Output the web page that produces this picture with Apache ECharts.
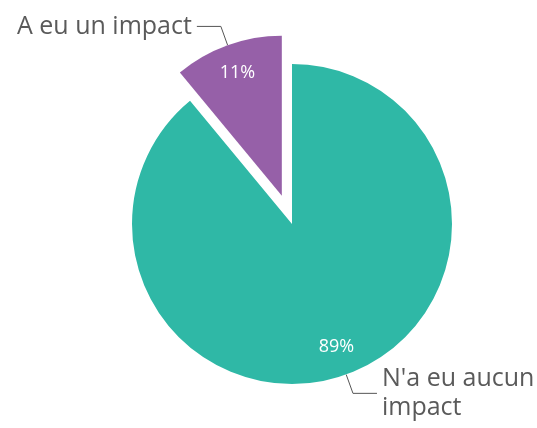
<!DOCTYPE html>
<html>
<head>
    <meta charset="utf-8">
    <title>impact</title>
    <script src="https://cdn.jsdelivr.net/npm/echarts@6/dist/echarts.min.js"></script>
    <style>
        html, body { margin: 0; padding: 0; background: #fff; }
        #chart { width: 537px; height: 428px; }
    </style>
</head>
<body>
<div id="chart"></div>
<script>
    // categories and values
    var categories = ["N'a eu aucun\nimpact", 'A eu un impact'];
    var values = [89, 11];
    var colors = ['#2fb8a6', '#9660a8'];

    var chart = echarts.init(document.getElementById('chart'));

    var center = [292, 224];
    var offset = 30;

    var pieData = categories.map(function (c, i) {
        return { name: c, value: values[i], selected: i === 1, itemStyle: { color: colors[i] } };
    });

    // second series: transparent ring, only used to place the percent labels
    var pctData = categories.map(function (c, i) {
        return { name: c + ' ', value: values[i], selected: i === 1, itemStyle: { color: 'rgba(0,0,0,0)' } };
    });

    var option = {
        animation: false,
        series: [
            {
                type: 'pie',
                center: center,
                radius: 160,
                startAngle: 90,
                selectedMode: 'single',
                selectedOffset: offset,
                silent: true,
                data: pieData,
                label: {
                    show: true,
                    position: 'outside',
                    color: '#5a5a5a',
                    fontFamily: 'Open Sans',
                    fontSize: 25,
                    lineHeight: 29,
                    overflow: 'none'
                },
                labelLine: {
                    show: true,
                    length: 20,
                    length2: 24,
                    lineStyle: { color: '#555', width: 1 }
                }
            },
            {
                type: 'pie',
                center: center,
                radius: [96, 160],
                startAngle: 90,
                selectedMode: 'single',
                selectedOffset: offset,
                silent: true,
                data: pctData,
                label: {
                    show: true,
                    position: 'inside',
                    color: '#fff',
                    fontFamily: 'Open Sans',
                    fontSize: 18,
                    formatter: function (p) { return values[p.dataIndex] + '%'; }
                },
                labelLine: { show: false }
            }
        ]
    };

    chart.setOption(option);
</script>
</body>
</html>
